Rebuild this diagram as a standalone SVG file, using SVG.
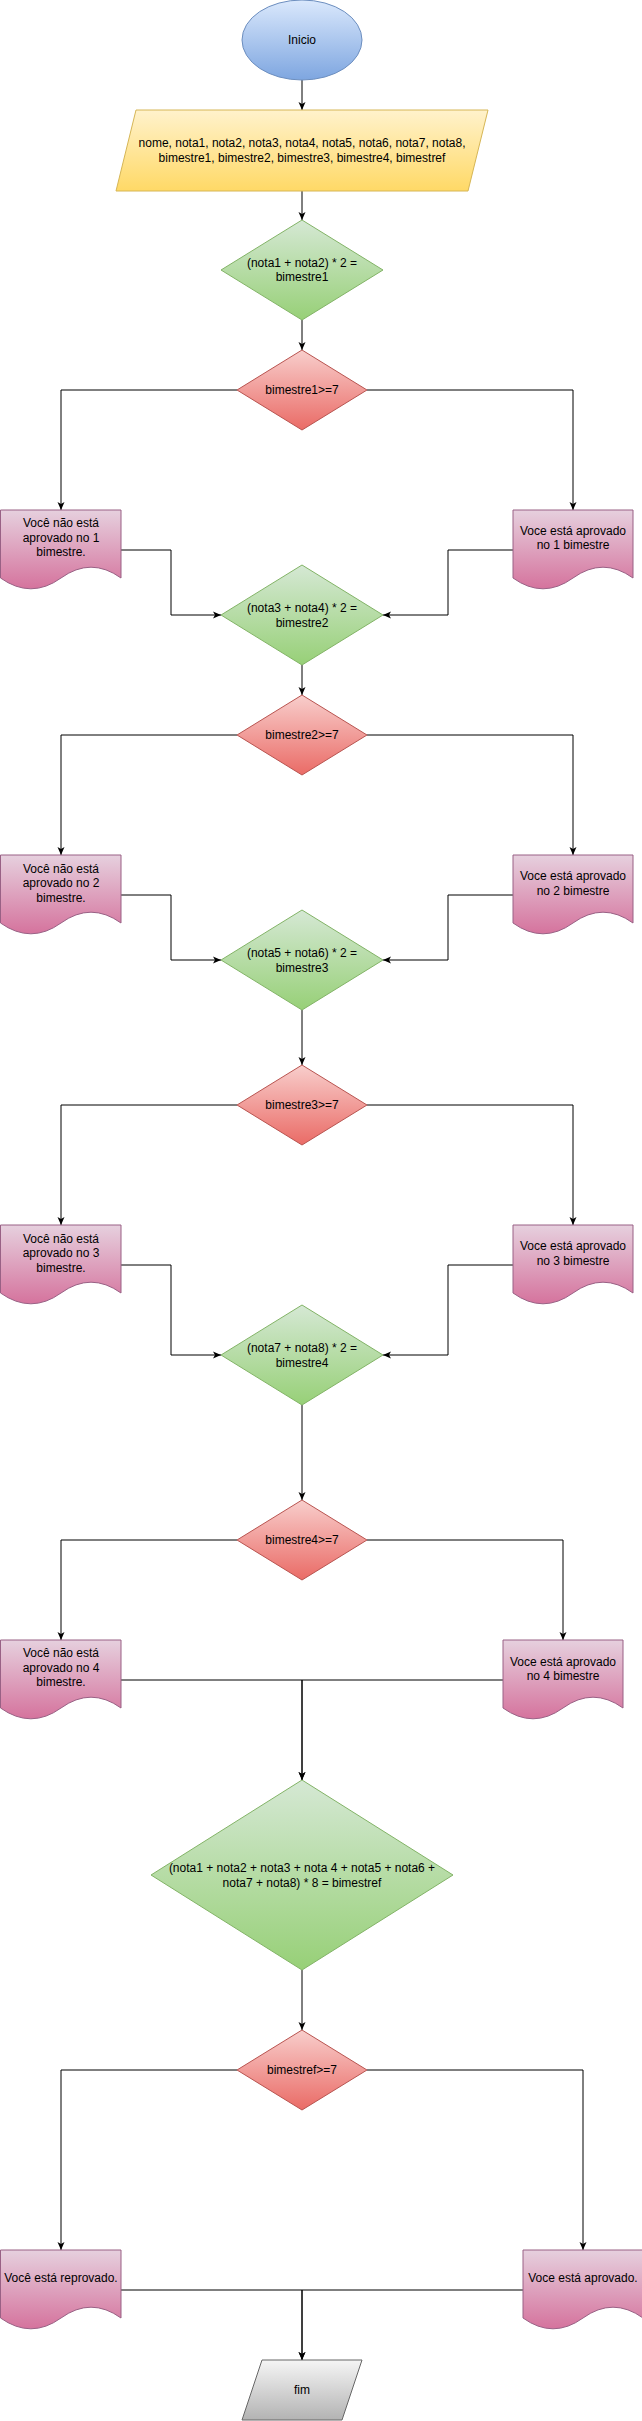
<svg xmlns="http://www.w3.org/2000/svg" width="642" height="2421" viewBox="0 0 642 2421">
<style>
text{font-family:"Liberation Sans",Arial,sans-serif;font-size:12px;fill:#000;text-anchor:middle}
.c{fill:none;stroke:#000;stroke-width:1}
.blue{fill:url(#gBlue);stroke:#6c8ebf}
.yel{fill:url(#gYel);stroke:#d6b656}
.grn{fill:url(#gGrn);stroke:#82b366}
.red{fill:url(#gRed);stroke:#b85450}
.pink{fill:url(#gPink);stroke:#996185}
.gray{fill:url(#gGray);stroke:#666666}
</style>
<defs>
<linearGradient id="gBlue" x1="0" y1="0" x2="0" y2="1"><stop offset="0" stop-color="#dae8fc"/><stop offset="1" stop-color="#7ea6e0"/></linearGradient>
<linearGradient id="gYel" x1="0" y1="0" x2="0" y2="1"><stop offset="0" stop-color="#fff2cc"/><stop offset="1" stop-color="#ffd966"/></linearGradient>
<linearGradient id="gGrn" x1="0" y1="0" x2="0" y2="1"><stop offset="0" stop-color="#d5e8d4"/><stop offset="1" stop-color="#97d077"/></linearGradient>
<linearGradient id="gRed" x1="0" y1="0" x2="0" y2="1"><stop offset="0" stop-color="#f8cecc"/><stop offset="1" stop-color="#ea6b66"/></linearGradient>
<linearGradient id="gPink" x1="0" y1="0" x2="0" y2="1"><stop offset="0" stop-color="#e6d0de"/><stop offset="1" stop-color="#d5739d"/></linearGradient>
<linearGradient id="gGray" x1="0" y1="0" x2="0" y2="1"><stop offset="0" stop-color="#f5f5f5"/><stop offset="1" stop-color="#b3b3b3"/></linearGradient>
<marker id="arr" viewBox="0 0 8 8" refX="8" refY="4" markerWidth="8" markerHeight="8" orient="auto" markerUnits="userSpaceOnUse"><path d="M0,0.5 L8,4 L0,7.5 L2,4 Z" fill="#000"/></marker>
</defs>

<g id="connectors">
<path class="c" marker-end="url(#arr)" d="M302,80 L302,110"/>
<path class="c" marker-end="url(#arr)" d="M302,191 L302,220"/>
<path class="c" marker-end="url(#arr)" d="M302,320 L302,350"/>
<path class="c" marker-end="url(#arr)" d="M237,390 L61,390 L61,510"/>
<path class="c" marker-end="url(#arr)" d="M367,390 L573,390 L573,510"/>
<path class="c" marker-end="url(#arr)" d="M121,550 L171,550 L171,615 L221,615"/>
<path class="c" marker-end="url(#arr)" d="M513,550 L448,550 L448,615 L383,615"/>
<path class="c" marker-end="url(#arr)" d="M302,665 L302,695"/>
<path class="c" marker-end="url(#arr)" d="M237,735 L61,735 L61,855"/>
<path class="c" marker-end="url(#arr)" d="M367,735 L573,735 L573,855"/>
<path class="c" marker-end="url(#arr)" d="M121,895 L171,895 L171,960 L221,960"/>
<path class="c" marker-end="url(#arr)" d="M513,895 L448,895 L448,960 L383,960"/>
<path class="c" marker-end="url(#arr)" d="M302,1010 L302,1065"/>
<path class="c" marker-end="url(#arr)" d="M237,1105 L61,1105 L61,1225"/>
<path class="c" marker-end="url(#arr)" d="M367,1105 L573,1105 L573,1225"/>
<path class="c" marker-end="url(#arr)" d="M121,1265 L171,1265 L171,1355 L221,1355"/>
<path class="c" marker-end="url(#arr)" d="M513,1265 L448,1265 L448,1355 L383,1355"/>
<path class="c" marker-end="url(#arr)" d="M302,1405 L302,1500"/>
<path class="c" marker-end="url(#arr)" d="M237,1540 L61,1540 L61,1640"/>
<path class="c" marker-end="url(#arr)" d="M367,1540 L563,1540 L563,1640"/>
<path class="c" marker-end="url(#arr)" d="M121,1680 L302,1680 L302,1780"/>
<path class="c" marker-end="url(#arr)" d="M503,1680 L302,1680 L302,1780"/>
<path class="c" marker-end="url(#arr)" d="M302,1970 L302,2030"/>
<path class="c" marker-end="url(#arr)" d="M237,2070 L61,2070 L61,2250"/>
<path class="c" marker-end="url(#arr)" d="M367,2070 L583,2070 L583,2250"/>
<path class="c" marker-end="url(#arr)" d="M121,2290 L302,2290 L302,2360"/>
<path class="c" marker-end="url(#arr)" d="M523,2290 L302,2290 L302,2360"/>
</g>

<g id="inicio"><ellipse class="blue" cx="302" cy="40" rx="60" ry="40"/><text x="302" y="44">Inicio</text></g>

<g id="entrada"><path class="yel" d="M136,110 L488,110 L468,191 L116,191 Z"/>
<text x="302" y="147">nome, nota1, nota2, nota3, nota4, nota5, nota6, nota7, nota8,</text>
<text x="302" y="162">bimestre1, bimestre2, bimestre3, bimestre4, bimestref</text></g>

<g id="calc1"><path class="grn" d="M302,220 L383,270 L302,320 L221,270 Z"/>
<text x="302" y="267">(nota1 + nota2) * 2 =</text><text x="302" y="281">bimestre1</text></g>

<g id="dec1"><path class="red" d="M302,350 L367,390 L302,430 L237,390 Z"/><text x="302" y="394">bimestre1&gt;=7</text></g>

<g id="nao1"><path class="pink" d="M0.5,510 L121,510 L121,578 Q91,556.4 61,578 Q31,599.6 0.5,578 Z"/>
<text x="61" y="527">Você não está</text><text x="61" y="542">aprovado no 1</text><text x="61" y="556">bimestre.</text></g>

<g id="sim1"><path class="pink" d="M513,510 L633,510 L633,578 Q603,556.4 573,578 Q543,599.6 513,578 Z"/>
<text x="573" y="535">Voce está aprovado</text><text x="573" y="549">no 1 bimestre</text></g>

<g id="calc2"><path class="grn" d="M302,565 L383,615 L302,665 L221,615 Z"/>
<text x="302" y="612">(nota3 + nota4) * 2 =</text><text x="302" y="627">bimestre2</text></g>

<g id="dec2"><path class="red" d="M302,695 L367,735 L302,775 L237,735 Z"/><text x="302" y="739">bimestre2&gt;=7</text></g>

<g id="nao2"><path class="pink" d="M0.5,855 L121,855 L121,923 Q91,901.4 61,923 Q31,944.6 0.5,923 Z"/>
<text x="61" y="873">Você não está</text><text x="61" y="887">aprovado no 2</text><text x="61" y="902">bimestre.</text></g>

<g id="sim2"><path class="pink" d="M513,855 L633,855 L633,923 Q603,901.4 573,923 Q543,944.6 513,923 Z"/>
<text x="573" y="880">Voce está aprovado</text><text x="573" y="895">no 2 bimestre</text></g>

<g id="calc3"><path class="grn" d="M302,910 L383,960 L302,1010 L221,960 Z"/>
<text x="302" y="957">(nota5 + nota6) * 2 =</text><text x="302" y="972">bimestre3</text></g>

<g id="dec3"><path class="red" d="M302,1065 L367,1105 L302,1145 L237,1105 Z"/><text x="302" y="1109">bimestre3&gt;=7</text></g>

<g id="nao3"><path class="pink" d="M0.5,1225 L121,1225 L121,1293 Q91,1271.4 61,1293 Q31,1314.6 0.5,1293 Z"/>
<text x="61" y="1243">Você não está</text><text x="61" y="1257">aprovado no 3</text><text x="61" y="1272">bimestre.</text></g>

<g id="sim3"><path class="pink" d="M513,1225 L633,1225 L633,1293 Q603,1271.4 573,1293 Q543,1314.6 513,1293 Z"/>
<text x="573" y="1250">Voce está aprovado</text><text x="573" y="1265">no 3 bimestre</text></g>

<g id="calc4"><path class="grn" d="M302,1305 L383,1355 L302,1405 L221,1355 Z"/>
<text x="302" y="1352">(nota7 + nota8) * 2 =</text><text x="302" y="1367">bimestre4</text></g>

<g id="dec4"><path class="red" d="M302,1500 L367,1540 L302,1580 L237,1540 Z"/><text x="302" y="1544">bimestre4&gt;=7</text></g>

<g id="nao4"><path class="pink" d="M0.5,1640 L121,1640 L121,1708 Q91,1686.4 61,1708 Q31,1729.6 0.5,1708 Z"/>
<text x="61" y="1657">Você não está</text><text x="61" y="1672">aprovado no 4</text><text x="61" y="1686">bimestre.</text></g>

<g id="sim4"><path class="pink" d="M503,1640 L623,1640 L623,1708 Q593,1686.4 563,1708 Q533,1729.6 503,1708 Z"/>
<text x="563" y="1666">Voce está aprovado</text><text x="563" y="1680">no 4 bimestre</text></g>

<g id="calcf"><path class="grn" d="M302,1780 L453,1875 L302,1970 L151,1875 Z"/>
<text x="302" y="1872">(nota1 + nota2 + nota3 + nota 4 + nota5 + nota6 +</text>
<text x="302" y="1887">nota7 + nota8) * 8 = bimestref</text></g>

<g id="decf"><path class="red" d="M302,2030 L367,2070 L302,2110 L237,2070 Z"/><text x="302" y="2074">bimestref&gt;=7</text></g>

<g id="reprovado"><path class="pink" d="M0.5,2250 L121,2250 L121,2318 Q91,2296.4 61,2318 Q31,2339.6 0.5,2318 Z"/>
<text x="61" y="2282">Você está reprovado.</text></g>

<g id="aprovado"><path class="pink" d="M523,2250 L643,2250 L643,2318 Q613,2296.4 583,2318 Q553,2339.6 523,2318 Z"/>
<text x="583" y="2282">Voce está aprovado.</text></g>

<g id="fim"><path class="gray" d="M262,2360 L362,2360 L342,2420 L242,2420 Z"/><text x="302" y="2394">fim</text></g>
</svg>
